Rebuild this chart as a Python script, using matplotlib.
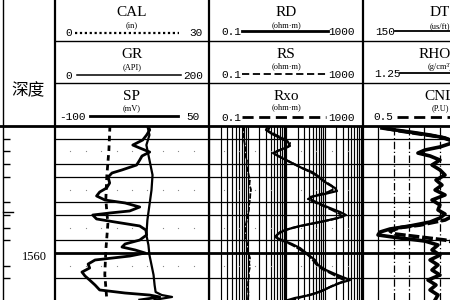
import matplotlib
matplotlib.use("Agg")
import matplotlib.pyplot as plt

W, H = 450, 300

# ---------------- data ----------------
gr_depth = [1550.00, 1550.31, 1550.71, 1551.10, 1551.50, 1551.73, 1552.05, 1552.36, 1552.68,
            1553.07, 1553.46, 1553.70, 1554.02, 1554.49, 1554.88, 1555.20, 1555.51, 1555.83,
            1556.06, 1556.38, 1556.69, 1556.85, 1557.01, 1557.32, 1557.56, 1557.87, 1558.19,
            1558.58, 1558.98, 1559.29, 1559.53, 1559.76, 1560.00, 1560.24, 1560.55, 1560.87,
            1561.18, 1561.50, 1561.81, 1562.13, 1562.52, 1562.91, 1563.15, 1563.31, 1563.46, 1563.70]
gr_api = [121, 123, 119, 114, 101, 110, 123, 113, 110,
          106, 87, 74, 69, 71, 67, 58, 54, 65,
          91, 110, 97, 71, 49, 54, 78, 110, 118,
          119, 110, 91, 87, 104, 117, 97, 52, 43,
          45, 35, 39, 45, 52, 58, 91, 123, 136, 110]

sp_depth = [1550.00, 1550.71, 1551.50, 1552.28, 1553.07, 1553.86, 1555.04, 1556.22, 1557.40,
            1558.58, 1559.37, 1560.16, 1560.94, 1561.73, 1562.52, 1563.07, 1563.31, 1563.46,
            1563.62, 1563.70]
sp_mv = [-10, -8, -11, -9, -7, -5, -6, -8, -10,
         -11, -9, -8, -6, -4, -3, -2, 4, 14, 2, -3]

cal_depth = [1550.0, 1551.9, 1553.9, 1555.8, 1557.7, 1559.8, 1561.7, 1563.7]
cal_in = [10.7, 10.5, 10.1, 9.9, 10.3, 9.9, 9.7, 10.1]

rxo_depth = [1550.0, 1550.5, 1551.1, 1551.5, 1551.9, 1552.3, 1552.7, 1553.1, 1553.5, 1553.9,
             1554.2, 1554.6, 1555.0, 1555.4, 1555.8, 1556.2, 1556.6, 1557.0, 1557.4, 1557.8,
             1558.2, 1558.6, 1558.9, 1559.3, 1559.6, 1560.0, 1560.4, 1560.8, 1561.1, 1561.5,
             1561.9, 1562.3, 1562.7, 1563.2, 1563.7]
rxo_ohmm = [0.76, 0.80, 0.81, 0.86, 0.91, 0.88, 0.97, 0.94, 1.02, 1.08,
            1.16, 1.12, 1.23, 1.18, 1.16, 1.10, 1.09, 1.02, 0.97, 0.90,
            0.86, 0.92, 0.91, 0.99, 0.97, 1.05, 1.16, 1.10, 1.16, 1.08,
            1.09, 1.04, 1.02, 1.06, 1.02]

rd_depth = [1550.00, 1550.31, 1550.63, 1550.94, 1551.26, 1551.57, 1551.89, 1552.13, 1552.36,
            1552.68, 1552.99, 1553.31, 1553.62, 1553.94, 1554.25, 1554.57, 1554.88, 1555.12,
            1555.35, 1555.59, 1555.83, 1556.14, 1556.46, 1556.77, 1557.01, 1557.24, 1557.56,
            1557.87, 1558.19, 1558.50, 1558.74, 1558.98, 1559.29, 1559.61, 1559.92, 1560.24,
            1560.55, 1560.94, 1561.34, 1561.65, 1561.97, 1562.13, 1562.36, 1562.68, 1562.99,
            1563.31, 1563.54, 1563.70]
rd_ohmm = [3.41, 3.02, 4.33, 6.99, 11.3, 12.7, 6.99, 4.60, 6.20,
           10.0, 16.1, 26.0, 47.3, 67.8, 86.1, 123, 187, 211,
           103, 42.0, 47.3, 76.4, 139, 253, 361, 224, 76.4,
           23.1, 9.42, 6.20, 5.18, 7.87, 14.3, 23.1, 31.2, 42.0,
           56.6, 67.8, 109, 187, 341, 459, 253, 139, 86.1,
           42.0, 17.1, 11.3]

rs_depth = [1550.00, 1550.39, 1550.71, 1551.02, 1551.34, 1551.65, 1551.97, 1552.20, 1552.52,
            1552.83, 1553.15, 1553.46, 1553.78, 1554.09, 1554.41, 1554.72, 1554.96, 1555.20,
            1555.51, 1555.75, 1556.06, 1556.38, 1556.69, 1556.93, 1557.17, 1557.40, 1557.72,
            1558.03, 1558.35, 1558.66, 1558.90, 1559.21, 1559.53, 1559.84, 1560.16, 1560.47,
            1560.87, 1561.26, 1561.57, 1561.89, 1562.13, 1562.28, 1562.52, 1562.83, 1563.15,
            1563.46, 1563.70]
rs_ohmm = [3.84, 3.41, 5.50, 8.87, 12.7, 11.3, 5.84, 5.18, 7.87,
           12.7, 20.5, 33.0, 53.3, 76.4, 109, 157, 177, 123,
           53.3, 37.2, 60.1, 109, 177, 253, 285, 139, 42.0,
           14.3, 6.99, 5.50, 6.20, 11.3, 18.2, 26.0, 37.2, 47.3,
           60.1, 86.1, 139, 224, 321, 285, 177, 109, 60.1,
           26.0, 14.3]

dt_depth = [1550.16, 1550.31, 1550.47, 1550.71, 1550.94, 1551.26, 1551.65, 1551.89, 1552.13,
            1552.36, 1552.68, 1553.07, 1553.46, 1553.86, 1554.25, 1554.65, 1555.04, 1555.43,
            1555.83, 1556.22, 1556.61, 1556.93, 1557.24, 1557.56, 1557.87, 1558.11, 1558.35,
            1558.58, 1558.82, 1559.06, 1559.37, 1559.76, 1560.16, 1560.55, 1560.94, 1561.34,
            1561.73, 1562.13, 1562.52, 1562.91, 1563.31, 1563.70]
dt_usft = [137.6, 129.1, 119.3, 106.2, 96.4, 89.9, 99.7, 109.5, 114.1,
           106.2, 99.7, 104.9, 99.7, 96.4, 102.3, 98.4, 102.9, 96.4,
           104.9, 99.7, 101.0, 96.4, 99.7, 106.2, 119.3, 132.4, 138.9,
           140.2, 125.8, 109.5, 101.0, 104.9, 99.7, 106.2, 101.0, 104.9,
           99.7, 107.5, 102.3, 106.2, 101.0, 102.9]

cnl_depth = [1550.16, 1550.39, 1550.63, 1550.86, 1551.10, 1551.50, 1552.70, 1554.30, 1555.80,
             1557.00, 1557.40, 1557.80, 1558.00, 1558.27, 1558.50, 1558.74, 1558.98, 1559.40,
             1560.50, 1562.10, 1563.70]
cnl_frac = [0.414, 0.355, 0.276, 0.198, 0.159, 0.080, 0.100, 0.080, 0.112,
            0.139, 0.178, 0.276, 0.355, 0.394, 0.375, 0.276, 0.178, 0.100,
            0.080, 0.100, 0.080]

depth_top, depth_bottom = 1550.0, 1563.7
grid_depths = [1551, 1553, 1554, 1556, 1557, 1559, 1562]
bold_depth = 1560
dot_depths = [1552, 1555, 1558, 1561]
tick_depths = [1551, 1552, 1553, 1554, 1556, 1557, 1558, 1559, 1561, 1562]
long_tick_depth = 1556.8
depth_label = 1560

# ---------------- layout helpers ----------------
def rect(x0, y0, x1, y1):
    return [x0 / W, 1 - y1 / H, (x1 - x0) / W, (y1 - y0) / H]

fig = plt.figure(figsize=(W / 100, H / 100), dpi=100)
fig.patch.set_facecolor("white")

def clean(ax):
    for s in ax.spines.values():
        s.set_visible(False)
    ax.set_xticks([])
    ax.set_yticks([])
    ax.patch.set_alpha(0)

Y0, Y1 = 126, 300

# depth column
axd = fig.add_axes(rect(3, Y0, 55, Y1))
clean(axd)
axd.set_ylim(depth_bottom, depth_top)
axd.set_xlim(0, 1)
axd.set_yticks(tick_depths)
axd.set_yticklabels([])
axd.tick_params(axis="y", direction="in", length=5, width=1, left=True, right=False)
axd.plot([0, 0.2], [long_tick_depth, long_tick_depth], color="black", lw=1, clip_on=False)
axd.annotate(str(depth_label), xy=(0.6, depth_label), xytext=(0, -3), textcoords="offset points",
             ha="center", va="center", fontsize=9, family="Liberation Serif")

# track 1
ax1 = fig.add_axes(rect(55, Y0, 209, Y1))
clean(ax1)
ax1.set_ylim(depth_bottom, depth_top)
ax1.set_xlim(0, 200)
for d in grid_depths:
    ax1.axhline(d, color="black", lw=0.9)
ax1.axhline(bold_depth, color="black", lw=2)
for d in dot_depths:
    ax1.plot([20, 40, 60, 80, 100, 120, 140, 160, 180], [d] * 9, ls="none", marker="s",
             ms=0.8, mew=0, color="#8a8a8a")
ax1.plot(gr_api, gr_depth, color="black", lw=2.0, solid_joinstyle="round")
ax1s = ax1.twiny()
clean(ax1s)
ax1s.set_xlim(-100, 50)
ax1s.plot(sp_mv, sp_depth, color="black", lw=1.6)
ax1c = ax1.twiny()
clean(ax1c)
ax1c.set_xlim(0, 30)
ax1c.plot(cal_in, cal_depth, color="black", lw=2.0, ls=(0, (2, 1.5)))

# track 2 (log)
ax2 = fig.add_axes(rect(209, Y0, 363, Y1))
clean(ax2)
ax2.set_xscale("log")
ax2.set_xlim(0.1, 1000)
ax2.set_ylim(depth_bottom, depth_top)
ax2.minorticks_off()
ax2.set_xticks([])
for k in [0.1, 1, 10, 100]:
    for m in range(1, 10):
        ax2.axvline(m * k, color="black", lw=1.6 if (m == 1 and k == 10) else 0.85)
for d in grid_depths:
    ax2.axhline(d, color="black", lw=0.9)
ax2.axhline(bold_depth, color="black", lw=2)
for d in dot_depths:
    ax2.plot([0.25, 0.6, 1.6, 4, 25, 60, 160, 400], [d] * 8, ls="none", marker="s",
             ms=0.8, mew=0, color="#8a8a8a")
ax2.plot(rxo_ohmm, rxo_depth, color="black", lw=1.3, ls=(0, (3, 0.8)))
ax2.plot(rs_ohmm, rs_depth, color="black", lw=1.5, ls=(0, (4, 0.8)))
ax2.plot(rd_ohmm, rd_depth, color="black", lw=1.6)

# track 3 (partly off the figure)
ax3 = fig.add_axes(rect(363, Y0, 516, Y1))
clean(ax3)
ax3.set_xlim(150, 50)
ax3.set_ylim(depth_bottom, depth_top)
for v in [140, 110, 80]:
    ax3.axvline(v, color="black", lw=0.9)
for v in [130, 120, 100, 90]:
    ax3.axvline(v, color="black", lw=0.9, ls=(0, (6, 2, 1, 2)))
for d in grid_depths:
    ax3.axhline(d, color="black", lw=0.9)
ax3.axhline(bold_depth, color="black", lw=2)
ax3.plot(dt_usft, dt_depth, color="black", lw=2.6)
ax3n = ax3.twiny()
clean(ax3n)
ax3n.set_xlim(0.5, -0.1)
ax3n.plot(cnl_frac, cnl_depth, color="black", lw=2.6, ls=(0, (3, 0.8)))

# ---------------- header & frame ----------------
hdr = fig.add_axes([0, 0, 1, 1], zorder=10)
hdr.set_xlim(0, W)
hdr.set_ylim(H, 0)
hdr.axis("off")
hdr.patch.set_alpha(0)

for x in [3, 55, 209, 363]:
    hdr.plot([x, x], [0, H], color="black", lw=1.6 if x != 3 else 1.0)
for y in [41, 83]:
    hdr.plot([55, W], [y, y], color="black", lw=1.0)
hdr.plot([0, W], [126, 126], color="black", lw=2.0)

TF = "Liberation Serif"
NF = "Liberation Mono"

def title(x, y, s):
    hdr.text(x, y, s, ha="center", va="center", fontsize=11, family=TF)

def unit(x, y, s):
    hdr.text(x, y, s, ha="center", va="center", fontsize=6, family=TF)

def num(x, y, s):
    hdr.text(x, y, s, ha="center", va="center", fontsize=8, family=NF)

# track 1 header
title(132, 13, "CAL"); unit(132, 25, "(in)")
num(69, 33, "0"); num(196, 33, "30")
hdr.plot([75, 179], [33, 33], color="black", lw=1.6, ls=(0, (1, 1.2)))
title(132, 55, "GR"); unit(132, 67, "(API)")
num(69, 76, "0"); num(193, 76, "200")
hdr.plot([77, 181], [75, 75], color="black", lw=1.1)
title(132, 97, "SP"); unit(132, 108, "(mV)")
num(72, 117, "-100"); num(193, 117, "50")
hdr.plot([90, 178], [116, 116], color="black", lw=2.0)

# track 2 header
title(286, 13, "RD"); unit(286, 25, "(ohm·m)")
num(231, 32, "0.1"); num(341, 32, "1000")
hdr.plot([242, 328], [31, 31], color="black", lw=2.0)
title(286, 55, "RS"); unit(286, 66, "(ohm·m)")
num(231, 75, "0.1"); num(341, 75, "1000")
hdr.plot([242, 326], [74, 74], color="black", lw=1.3, ls=(0, (4, 2)))
title(286, 96, "Rxo"); unit(286, 107, "(ohm·m)")
num(231, 118, "0.1"); num(341, 118, "1000")
hdr.plot([242, 326], [117, 117], color="black", lw=2.0, ls=(0, (4, 2)))

# track 3 header (cut at the right edge, as in the reference)
title(440, 13, "DT"); unit(440, 26, "(us/ft)")
num(385, 32, "150")
hdr.plot([395, W], [31, 31], color="black", lw=1.3)
title(440, 55, "RHOB"); unit(440, 67, "(g/cm³)")
num(387, 74, "1.25")
hdr.plot([400, W], [73, 73], color="black", lw=1.3)
title(440, 97, "CNL"); unit(440, 108, "(P.U)")
num(383, 117, "0.5")
hdr.plot([397, W], [117, 117], color="black", lw=2.0, ls=(0, (4, 2)))

hdr.text(28, 91, "深度", ha="center", va="center", fontsize=12,
         family=["Noto Sans CJK SC", "DejaVu Sans"])

fig.savefig("out.png", dpi=100)
